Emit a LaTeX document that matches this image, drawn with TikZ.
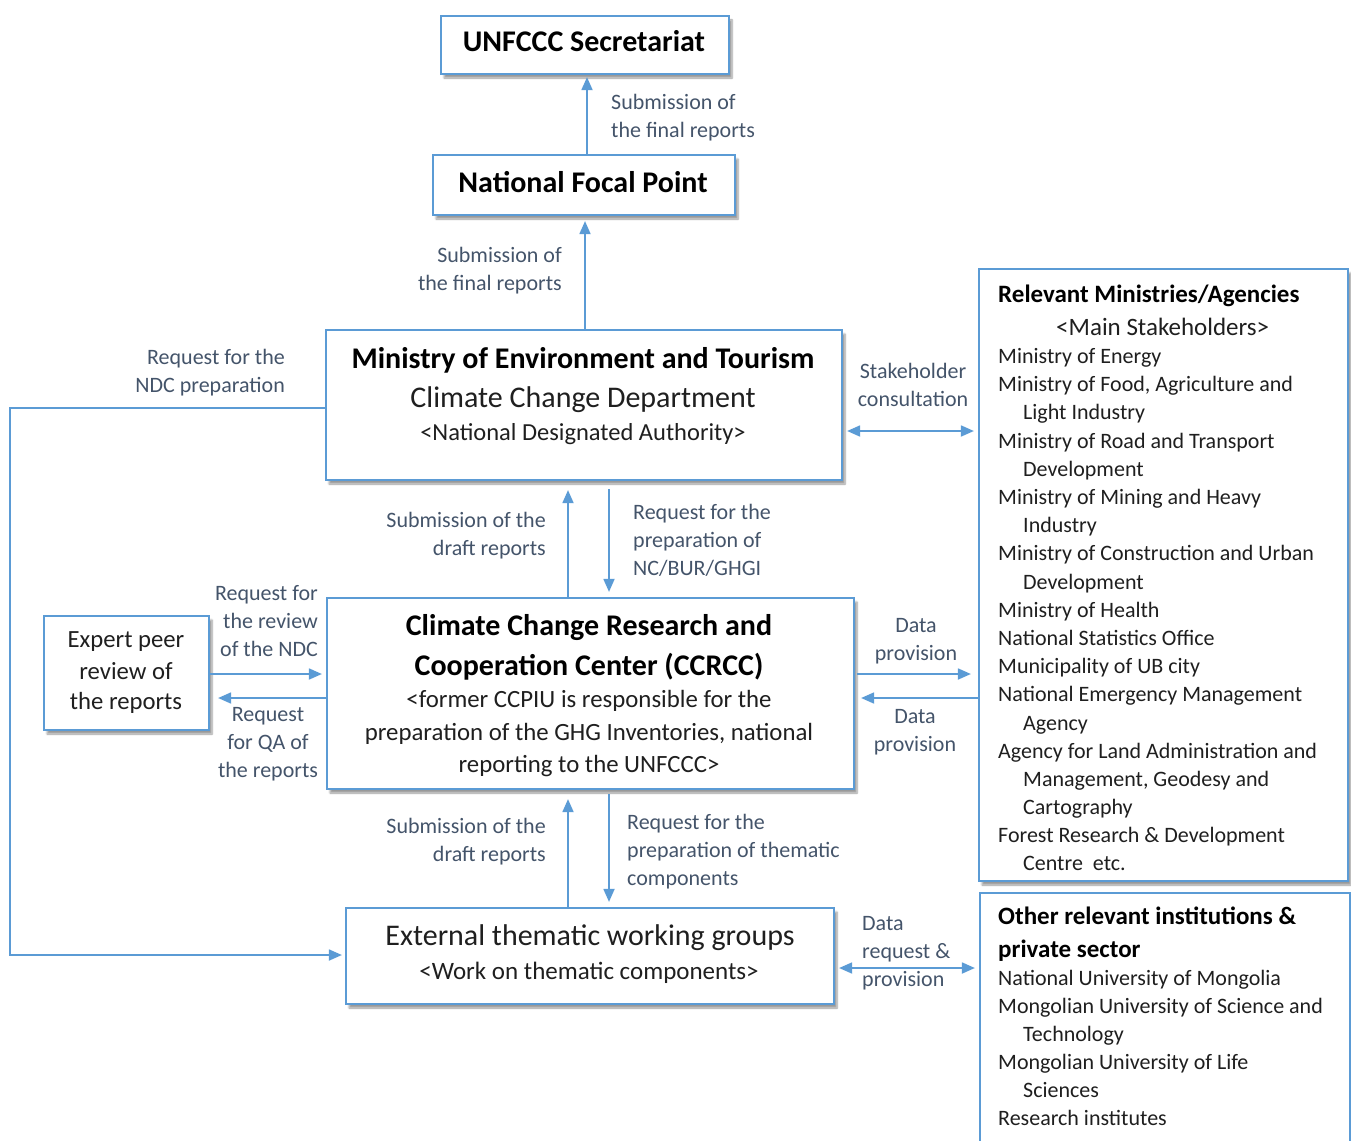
\documentclass[tikz,border=0pt]{standalone}
\usepackage{fontspec}
\setmainfont{Carlito}
\usetikzlibrary{arrows.meta,shadows.blur}
\definecolor{boxblue}{HTML}{5B9BD5}
\definecolor{labblue}{HTML}{44546A}
\definecolor{txtgray}{HTML}{1F1F1F}
\newcommand\fsz[2]{\fontsize{#1}{#2}\selectfont}
\begin{document}
\begin{tikzpicture}[x=1pt,y=-1pt,
  box/.style={draw=boxblue, line width=2.2pt, fill=white, inner sep=0pt,
    blur shadow={shadow xshift=3pt, shadow yshift=-4pt, shadow blur steps=6, shadow opacity=40}},
  tipA/.tip={Triangle[length=13pt,width=11pt]},
  arr/.style={draw=boxblue, line width=1.8pt, -tipA, shorten >=5pt},
  darr/.style={draw=boxblue, line width=1.8pt, tipA-tipA, shorten >=4pt, shorten <=4pt},
  lab/.style={text=labblue, font=\fsz{22}{28}, inner sep=0pt},
  btitle/.style={inner sep=0pt, anchor=base, text=black, font=\bfseries\fsz{30}{36}},
  bbig/.style={inner sep=0pt, anchor=base, text=txtgray, font=\fsz{30}{36}},
  bsmall/.style={inner sep=0pt, anchor=base, text=txtgray, font=\fsz{24.8}{30}},
  rtxt/.style={inner sep=0pt, anchor=base west, text=txtgray, font=\fsz{22}{28}},
  rbold/.style={inner sep=0pt, anchor=base west, text=black, font=\bfseries\fsz{25}{33}}]
\useasboundingbox (0,0) rectangle (1351,1140);

% boxes
\node[box, minimum width=288pt, minimum height=58pt] (unf) at (585,45) {};
\node[box, minimum width=302pt, minimum height=60pt] (nfp) at (584,185) {};
\node[box, minimum width=516pt, minimum height=150pt] (met) at (584,405) {};
\node[box, minimum width=527pt, minimum height=191pt] (ccr) at (590.5,693.5) {};
\node[box, minimum width=165pt, minimum height=114pt] (exp) at (126.5,673) {};
\node[box, minimum width=488pt, minimum height=96pt] (ext) at (590,956) {};
\node[box, minimum width=369pt, minimum height=612pt] (rma) at (1163.5,575) {};
\node[box, minimum width=370pt, minimum height=270pt] (oth) at (1165,1028) {};

% box texts
\node[btitle] (tunf) at (584,52) {UNFCCC Secretariat};
\node[btitle] (tnfp) at (583,192) {National Focal Point};
\node[btitle] (tmet1) at (583,368) {Ministry of Environment and Tourism};
\node[bbig] (tmet2) at (583,407.5) {Climate Change Department};
\node[bsmall, font=\fsz{24.5}{30}] (tmet3) at (583,440) {<National Designated Authority>};
\node[btitle] (tccr1) at (589,635.5) {Climate Change Research and};
\node[btitle] (tccr2) at (589,675.5) {Cooperation Center (CCRCC)};
\node[bsmall] (tccr3) at (589,707) {<former CCPIU is responsible for the};
\node[bsmall] (tccr4) at (589,740) {preparation of the GHG Inventories, national};
\node[bsmall] (tccr5) at (589,772) {reporting to the UNFCCC>};
\node[bsmall, font=\fsz{24.7}{30}] (texp1) at (126,647.5) {Expert peer};
\node[bsmall, font=\fsz{24.7}{30}] (texp2) at (126,679.5) {review of};
\node[bsmall, font=\fsz{24.7}{30}] (texp3) at (126,709.5) {the reports};
\node[bbig] (text1) at (590,945.5) {External thematic working groups};
\node[bsmall, font=\fsz{25}{30}] (text2) at (589,979) {<Work on thematic components>};

% right box 1
\node[rbold] (rt) at (998,302.5) {Relevant Ministries/Agencies};
\node[rtxt, font=\fsz{25}{30}] (rs) at (1056,335.5) {<Main Stakeholders>};
\foreach \yy/\xx/\tt [count=\i] in {
  356/998/{Ministry of Energy},
  384/998/{Ministry of Food, Agriculture and},
  412/1023/{Light Industry},
  441/998/{Ministry of Road and Transport},
  469/1023/{Development},
  497/998/{Ministry of Mining and Heavy},
  525/1023/{Industry},
  553/998/{Ministry of Construction and Urban},
  582/1023/{Development},
  610/998/{Ministry of Health},
  638/998/{National Statistics Office},
  666/998/{Municipality of UB city},
  694/998/{National Emergency Management},
  723/1023/{Agency},
  751/998/{Agency for Land Administration and},
  779/1023/{Management, Geodesy and},
  807/1023/{Cartography},
  835/998/{Forest Research \& Development},
  863/1023/{Centre\ \ etc.}}
  \node[rtxt] (ra\i) at (\xx,\yy+7) {\tt};

% right box 2
\node[rbold] (ot1) at (998,924) {Other relevant institutions \&};
\node[rbold] (ot2) at (998,957) {private sector};
\foreach \yy/\xx/\tt [count=\i] in {
  978/998/{National University of Mongolia},
  1006/998/{Mongolian University of Science and},
  1034/1023/{Technology},
  1062/998/{Mongolian University of Life},
  1090/1023/{Sciences},
  1118/998/{Research institutes}}
  \node[rtxt] (ob\i) at (\xx,\yy+7) {\tt};

% x positions for vertical arrows
\coordinate (xa) at (587,0);
\coordinate (xb) at (585,0);
\coordinate (xup) at (568,0);
\coordinate (xdn) at (609,0);
\coordinate (yndc) at (0,408);
\coordinate (ysk) at (0,431);
\coordinate (yr1) at (0,674);
\coordinate (yr2) at (0,698);
\coordinate (ydr) at (0,968);
\coordinate (lc1) at (10,408);
\coordinate (lc2) at (10,955);

% connectors
\draw[arr, shorten >=2pt] (xa |- nfp.north) -- (xa |- unf.south);
\draw[arr] (xb |- met.north) -- (xb |- nfp.south);
\draw[arr, shorten >=3pt] (met.west |- yndc) -- (lc1) -- (lc2) -- (ext.west |- lc2);
\draw[arr, shorten >=9pt] (xup |- ccr.north) -- (xup |- met.south);
\draw[arr, shorten <=8pt] (xdn |- met.south) -- (xdn |- ccr.north);
\draw[darr] (met.east |- ysk) -- (rma.west |- ysk);
\draw[arr, shorten >=4pt] (exp.east |- yr1) -- (ccr.west |- yr1);
\draw[arr, shorten >=8pt] (ccr.west |- yr2) -- (exp.east |- yr2);
\draw[arr, shorten <=2pt, shorten >=7pt] (ccr.east |- yr1) -- (rma.west |- yr1);
\draw[arr, shorten >=6pt] (rma.west |- yr2) -- (ccr.east |- yr2);
\draw[arr, shorten >=9pt] (xup |- ext.north) -- (xup |- ccr.south);
\draw[arr, shorten <=4pt] (xdn |- ccr.south) -- (xdn |- ext.north);
\draw[darr] (ext.east |- ydr) -- (oth.west |- ydr);

% labels
\node[lab, align=left, anchor=north west] (l1) at (611,89.4) {\strut Submission of\\the final reports};
\node[lab, align=right, anchor=north east] (l2) at (562,242.4) {\strut Submission of\\the final reports};
\node[lab, align=right, anchor=north east] (l3) at (285,344.4) {\strut Request for the\\NDC preparation};
\node[lab, align=center, anchor=north] (l4) at (913,358.4) {\strut Stakeholder\\consultation};
\node[lab, align=right, anchor=north east] (l5) at (546,507.4) {\strut Submission of the\\draft reports};
\node[lab, align=left, anchor=north west] (l6) at (633,499.4) {\strut Request for the\\preparation of\\NC/BUR/GHGI};
\node[lab, align=right, anchor=north east] (l7) at (318,580.4) {\strut Request for\\the review\\of the NDC};
\node[lab, align=center, anchor=north] (l8) at (268,701.4) {\strut Request\\for QA of\\the reports};
\node[lab, align=center, anchor=north] (l9) at (916,612.4) {\strut Data\\provision};
\node[lab, align=center, anchor=north] (l10) at (915,703.4) {\strut Data\\provision};
\node[lab, align=right, anchor=north east] (l11) at (546,813.4) {\strut Submission of the\\draft reports};
\node[lab, align=left, anchor=north west] (l12) at (627,809.4) {\strut Request for the\\preparation of thematic\\components};
\node[lab, align=left, anchor=north west] (l13) at (862,910.4) {\strut Data\\request \&\\provision};
\end{tikzpicture}
\end{document}
